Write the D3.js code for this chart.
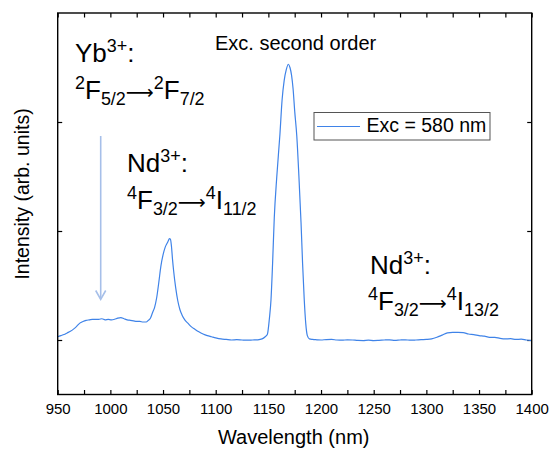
<!DOCTYPE html>
<html><head><meta charset="utf-8">
<script src="https://cdn.jsdelivr.net/npm/d3@7"></script>
<style>body{margin:0;background:#fff}svg{display:block}text{font-family:"Liberation Sans",Arial,sans-serif;fill:#000}</style>
</head><body><svg id="c" width="550" height="449"></svg>
<script>
const wavelength = [950,953,956,959,962,965,968,971,974,977,980,983,986,989,992,995,998,1001,1004,1007,1010,1013,1016,1019,1022,1025,1028,1031,1034,1036,1038,1040,1042,1044,1046,1048,1050,1052,1054,1055,1056,1057,1058,1059,1060,1062,1064,1066,1068,1071,1074,1077,1080,1084,1088,1092,1096,1100,1105,1110,1115,1120,1125,1130,1135,1140,1144,1147,1149,1151,1152.5,1154,1155.6,1158,1161,1163,1165,1167,1169,1170.5,1172,1173.5,1175,1177,1179,1181,1182.5,1184,1185.5,1187,1189,1192,1196,1200,1205,1210,1215,1220,1225,1230,1235,1240,1245,1250,1255,1260,1265,1270,1275,1280,1285,1290,1295,1300,1305,1310,1315,1320,1325,1330,1335,1340,1345,1350,1355,1360,1365,1370,1375,1380,1385,1390,1395,1400];
const intensity = [0.03,0.04,0.05,0.065,0.08,0.10,0.125,0.155,0.17,0.18,0.185,0.19,0.19,0.19,0.195,0.185,0.19,0.185,0.19,0.2,0.205,0.195,0.185,0.18,0.175,0.17,0.17,0.165,0.165,0.18,0.2,0.25,0.3,0.39,0.53,0.68,0.78,0.85,0.89,0.91,0.93,0.925,0.86,0.74,0.64,0.48,0.36,0.28,0.23,0.18,0.15,0.12,0.1,0.075,0.055,0.04,0.03,0.02,0.01,0.005,0.0,0.003,0.0,-0.002,0.0,0.002,0.01,0.03,0.05,0.2,0.37,0.7,1.12,1.5,1.89,2.2,2.38,2.48,2.53,2.5,2.43,2.3,2.1,1.87,1.5,1.08,0.7,0.38,0.15,0.04,0.01,0.005,0.002,0.0,0.004,0.005,0.0,-0.002,0.002,0.0,-0.004,-0.005,-0.002,-0.005,-0.003,0.0,0.002,-0.003,0.0,0.002,-0.002,0.0,0.003,0.005,0.01,0.025,0.045,0.065,0.07,0.07,0.068,0.055,0.05,0.04,0.035,0.025,0.025,0.015,0.01,0.012,0.005,0.008,0.0,-0.005];
const xTicks = [950,1000,1050,1100,1150,1200,1250,1300,1350,1400];
const xMinorTicks = [975,1025,1075,1125,1175,1225,1275,1325,1375];
const yTicks = [0,1,2];
const seriesName = "Exc = 580 nm";

const svg = d3.select("#c");
const L=57.7, R=531.7, T=13, B=394.5;
const x = d3.scaleLinear().domain([950,1400]).range([L,R]);
const y = d3.scaleLinear().domain([-0.5,3]).range([B,T]);
const lineColor = "#3f83e8";

const tk = 4.5;
function styleTicks(g){g.select(".domain").remove();g.selectAll("line").attr("stroke","#000").attr("stroke-width",1.2);}
svg.append("g").attr("transform",`translate(0,${B})`)
  .call(d3.axisBottom(x).tickValues(xTicks).tickSize(-tk).tickPadding(9).tickFormat(d3.format("d")))
  .call(g=>{styleTicks(g);
    g.selectAll("text").attr("font-size",15).attr("font-family","Liberation Sans, Arial, sans-serif").attr("fill","#000");});
svg.append("g").attr("transform",`translate(0,${B})`)
  .call(d3.axisBottom(x).tickValues(xMinorTicks).tickSize(-tk).tickFormat("")).call(styleTicks);
svg.append("g").attr("transform",`translate(0,${T})`)
  .call(d3.axisTop(x).tickValues(xTicks.concat(xMinorTicks)).tickSize(-tk).tickFormat("")).call(styleTicks);
svg.append("g").attr("transform",`translate(${L},0)`)
  .call(d3.axisLeft(y).tickValues(yTicks).tickSize(-tk).tickFormat("")).call(styleTicks);
svg.append("g").attr("transform",`translate(${R},0)`)
  .call(d3.axisRight(y).tickValues(yTicks).tickSize(-tk).tickFormat("")).call(styleTicks);

const data = wavelength.map((w,i)=>[w,intensity[i]]);
svg.append("path").datum(data)
  .attr("fill","none").attr("stroke",lineColor).attr("stroke-width",1.2).attr("stroke-linejoin","round")
  .attr("d", d3.line().x(d=>x(d[0])).y(d=>y(d[1])).curve(d3.curveMonotoneX));

svg.append("rect").attr("x",L).attr("y",T).attr("width",R-L).attr("height",B-T)
  .attr("fill","none").attr("stroke","#000").attr("stroke-width",1.4);

svg.append("text").attr("x",(L+R)/2 - 1).attr("y",444).attr("text-anchor","middle").attr("font-size",20).text("Wavelength (nm)");
svg.append("text").attr("transform","translate(29,194) rotate(-90)").attr("text-anchor","middle").attr("font-size",19.5).text("Intensity (arb. units)");

svg.append("rect").attr("x",314).attr("y",112.5).attr("width",176).attr("height",27.5)
  .attr("fill","#fff").attr("stroke","#555").attr("stroke-width",1);
svg.append("line").attr("x1",317).attr("x2",360).attr("y1",126.5).attr("y2",126.5).attr("stroke",lineColor).attr("stroke-width",1.2);
svg.append("text").attr("x",366.5).attr("y",132).attr("font-size",19.5).text(seriesName);

svg.append("text").attr("x",215).attr("y",50).attr("font-size",20).text("Exc. second order");

function rich(xp, yp, segs, fs){
  const t = svg.append("text").attr("x",xp).attr("y",yp).attr("font-size",fs);
  let prev = "n";
  const off = {n:0, sup:-0.4*fs, sub:0.24*fs, arr:0};
  segs.forEach(([s,k])=>{
    const sp = t.append("tspan").text(s);
    const dy = off[k]-off[prev];
    if (dy) sp.attr("dy",dy);
    if (k==="sup"||k==="sub") sp.attr("font-size",fs*0.69);
    if (k==="arr") sp.attr("font-family","DejaVu Sans").attr("font-size",fs*0.75);
    prev = k;
  });
  return t;
}
const fs = 26;
rich(75,62,[["Yb","n"],["3+","sup"],[":","n"]],fs);
rich(75,99,[["2","sup"],["F","n"],["5/2","sub"],["\u27F6","arr"],["2","sup"],["F","n"],["7/2","sub"]],fs);
rich(127,172,[["Nd","n"],["3+","sup"],[":","n"]],fs);
rich(127,209,[["4","sup"],["F","n"],["3/2","sub"],["\u27F6","arr"],["4","sup"],["I","n"],["11/2","sub"]],fs);
rich(370,274,[["Nd","n"],["3+","sup"],[":","n"]],fs);
rich(368,310,[["4","sup"],["F","n"],["3/2","sub"],["\u27F6","arr"],["4","sup"],["I","n"],["13/2","sub"]],fs);

const ac = "#a6bfe9";
svg.append("line").attr("x1",100.7).attr("x2",100.7).attr("y1",136).attr("y2",299).attr("stroke",ac).attr("stroke-width",1.6);
svg.append("path").attr("d","M95.7,290.5 L100.7,299.3 L105.7,290.5").attr("fill","none").attr("stroke",ac).attr("stroke-width",1.6);
</script></body></html>
